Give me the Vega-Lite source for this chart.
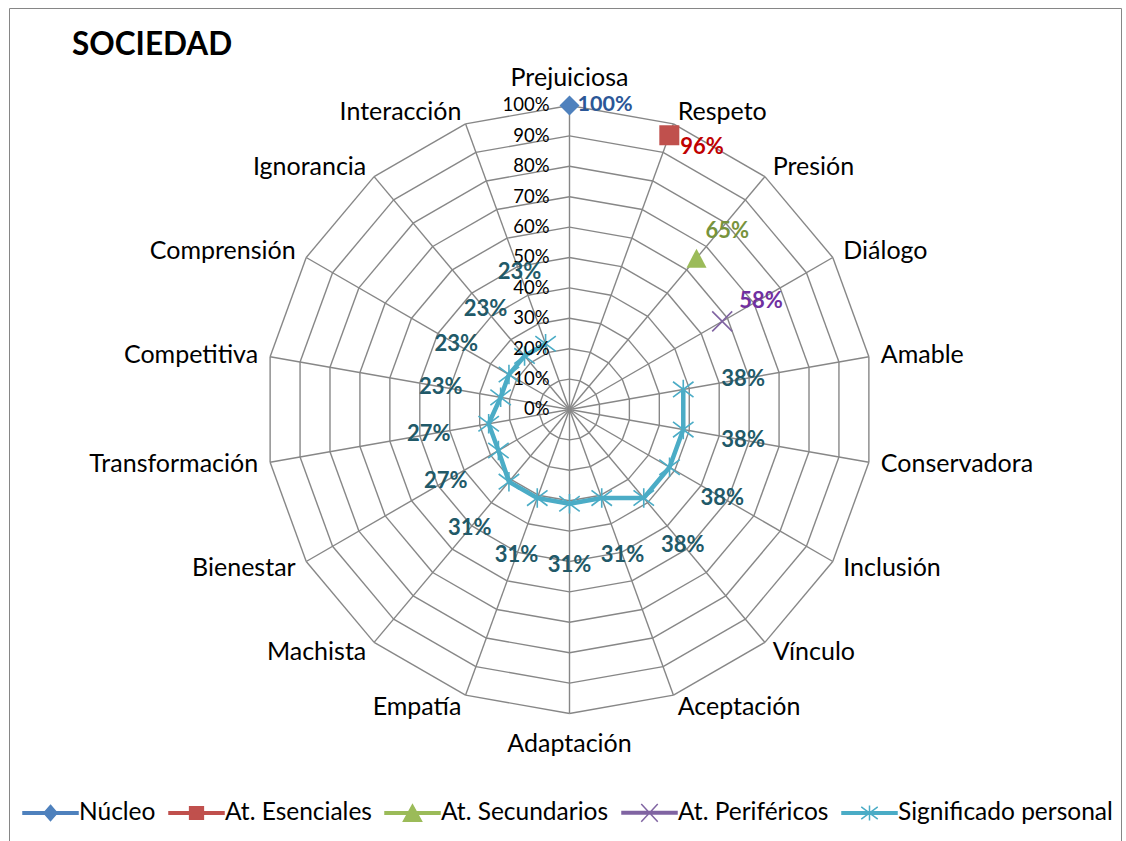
{
  "$schema": "https://vega.github.io/schema/vega-lite/v6.json",
  "width": 1112,
  "height": 833,
  "autosize": "none",
  "padding": {"left": 9, "top": 8, "right": 5, "bottom": 0},
  "background": "white",
  "config": {
    "font": "Lato",
    "view": {"stroke": "#868686", "strokeWidth": 1, "strokeDash": [1945, 1112, 833, 0]}
  },
  "title": {
    "text": "SOCIEDAD", "anchor": "start", "frame": "group", "orient": "top", "offset": 0,
    "dx": 63, "dy": 78.5, "baseline": "alphabetic",
    "font": "Lato", "fontSize": 31.5, "fontWeight": "bold", "color": "#000000"
  },
  "datasets": {
    "cats": [
      {"cat": "Prejuiciosa", "i": 0}, {"cat": "Respeto", "i": 1}, {"cat": "Presión", "i": 2},
      {"cat": "Diálogo", "i": 3}, {"cat": "Amable", "i": 4}, {"cat": "Conservadora", "i": 5},
      {"cat": "Inclusión", "i": 6}, {"cat": "Vínculo", "i": 7}, {"cat": "Aceptación", "i": 8},
      {"cat": "Adaptación", "i": 9}, {"cat": "Empatía", "i": 10}, {"cat": "Machista", "i": 11},
      {"cat": "Bienestar", "i": 12}, {"cat": "Transformación", "i": 13}, {"cat": "Competitiva", "i": 14},
      {"cat": "Comprensión", "i": 15}, {"cat": "Ignorancia", "i": 16}, {"cat": "Interacción", "i": 17}
    ],
    "vals": [
      {"serie": "Núcleo", "cat": "Prejuiciosa", "value": 1.0},
      {"serie": "At. Esenciales", "cat": "Respeto", "value": 0.96},
      {"serie": "At. Secundarios", "cat": "Presión", "value": 0.65},
      {"serie": "At. Periféricos", "cat": "Diálogo", "value": 0.58},
      {"serie": "Significado personal", "cat": "Amable", "value": 0.38},
      {"serie": "Significado personal", "cat": "Conservadora", "value": 0.38},
      {"serie": "Significado personal", "cat": "Inclusión", "value": 0.38},
      {"serie": "Significado personal", "cat": "Vínculo", "value": 0.38},
      {"serie": "Significado personal", "cat": "Aceptación", "value": 0.31},
      {"serie": "Significado personal", "cat": "Adaptación", "value": 0.31},
      {"serie": "Significado personal", "cat": "Empatía", "value": 0.31},
      {"serie": "Significado personal", "cat": "Machista", "value": 0.31},
      {"serie": "Significado personal", "cat": "Bienestar", "value": 0.27},
      {"serie": "Significado personal", "cat": "Transformación", "value": 0.27},
      {"serie": "Significado personal", "cat": "Competitiva", "value": 0.23},
      {"serie": "Significado personal", "cat": "Comprensión", "value": 0.23},
      {"serie": "Significado personal", "cat": "Ignorancia", "value": 0.23},
      {"serie": "Significado personal", "cat": "Interacción", "value": 0.23}
    ],
    "ticks": [
      {"t": 0}, {"t": 0.1}, {"t": 0.2}, {"t": 0.3}, {"t": 0.4}, {"t": 0.5},
      {"t": 0.6}, {"t": 0.7}, {"t": 0.8}, {"t": 0.9}, {"t": 1.0}
    ]
  },
  "encoding": {
    "x": {"field": "x", "type": "quantitative", "scale": {"domain": [-1.84375, 1.81414], "nice": false, "zero": false}, "axis": null},
    "y": {"field": "y", "type": "quantitative", "scale": {"domain": [-1.41941, 1.32072], "nice": false, "zero": false}, "axis": null}
  },
  "layer": [
    {
      "data": {"name": "cats"},
      "transform": [
        {"calculate": "[0.1,0.2,0.3,0.4,0.5,0.6,0.7,0.8,0.9,1.0]", "as": "lv"},
        {"flatten": ["lv"]},
        {"calculate": "datum.lv*sin(datum.i*PI/9)", "as": "x"},
        {"calculate": "datum.lv*cos(datum.i*PI/9)", "as": "y"},
        {"calculate": "datum.lv*sin((datum.i+1)*PI/9)", "as": "x2"},
        {"calculate": "datum.lv*cos((datum.i+1)*PI/9)", "as": "y2"}
      ],
      "mark": {"type": "rule", "color": "#878787", "strokeWidth": 1.4},
      "encoding": {"x2": {"field": "x2"}, "y2": {"field": "y2"}}
    },
    {
      "data": {"name": "cats"},
      "transform": [
        {"calculate": "0", "as": "x"},
        {"calculate": "0", "as": "y"},
        {"calculate": "sin(datum.i*PI/9)", "as": "x2"},
        {"calculate": "cos(datum.i*PI/9)", "as": "y2"}
      ],
      "mark": {"type": "rule", "color": "#878787", "strokeWidth": 1.4},
      "encoding": {"x2": {"field": "x2"}, "y2": {"field": "y2"}}
    },
    {
      "data": {"name": "vals"},
      "transform": [
        {"filter": "datum.serie == 'Significado personal'"},
        {"lookup": "cat", "from": {"data": {"name": "cats"}, "key": "cat", "fields": ["i"]}},
        {"calculate": "datum.value*sin(datum.i*PI/9)", "as": "x"},
        {"calculate": "datum.value*cos(datum.i*PI/9)", "as": "y"}
      ],
      "mark": {"type": "line", "color": "#4BACC6", "strokeWidth": 4.5, "strokeJoin": "round"},
      "encoding": {"order": {"field": "i", "type": "quantitative"}}
    },
    {
      "data": {"name": "vals"},
      "transform": [
        {"filter": "datum.serie == 'Significado personal'"},
        {"lookup": "cat", "from": {"data": {"name": "cats"}, "key": "cat", "fields": ["i"]}},
        {"calculate": "datum.value*sin(datum.i*PI/9)", "as": "x"},
        {"calculate": "datum.value*cos(datum.i*PI/9)", "as": "y"}
      ],
      "mark": {"type": "point", "filled": false, "opacity": 1, "color": "#4BACC6", "strokeWidth": 1.6, "size": 420,
               "shape": "M-1,-0.75L1,0.75M-1,0.75L1,-0.75M0,-0.95L0,0.95"}
    },
    {
      "data": {"name": "vals"},
      "transform": [
        {"filter": "datum.serie == 'Núcleo'"},
        {"lookup": "cat", "from": {"data": {"name": "cats"}, "key": "cat", "fields": ["i"]}},
        {"calculate": "datum.value*sin(datum.i*PI/9)", "as": "x"},
        {"calculate": "datum.value*cos(datum.i*PI/9)", "as": "y"}
      ],
      "mark": {"type": "point", "filled": true, "opacity": 1, "color": "#4F81BD", "size": 400, "shape": "diamond"}
    },
    {
      "data": {"name": "vals"},
      "transform": [
        {"filter": "datum.serie == 'At. Esenciales'"},
        {"lookup": "cat", "from": {"data": {"name": "cats"}, "key": "cat", "fields": ["i"]}},
        {"calculate": "datum.value*sin(datum.i*PI/9)", "as": "x"},
        {"calculate": "datum.value*cos(datum.i*PI/9)", "as": "y"}
      ],
      "mark": {"type": "point", "filled": true, "opacity": 1, "color": "#C0504D", "size": 400, "shape": "square"}
    },
    {
      "data": {"name": "vals"},
      "transform": [
        {"filter": "datum.serie == 'At. Secundarios'"},
        {"lookup": "cat", "from": {"data": {"name": "cats"}, "key": "cat", "fields": ["i"]}},
        {"calculate": "datum.value*sin(datum.i*PI/9)", "as": "x"},
        {"calculate": "datum.value*cos(datum.i*PI/9)", "as": "y"}
      ],
      "mark": {"type": "point", "filled": true, "opacity": 1, "color": "#9BBB59", "size": 400, "shape": "M0,-0.95L1,0.95L-1,0.95Z"}
    },
    {
      "data": {"name": "vals"},
      "transform": [
        {"filter": "datum.serie == 'At. Periféricos'"},
        {"lookup": "cat", "from": {"data": {"name": "cats"}, "key": "cat", "fields": ["i"]}},
        {"calculate": "datum.value*sin(datum.i*PI/9)", "as": "x"},
        {"calculate": "datum.value*cos(datum.i*PI/9)", "as": "y"}
      ],
      "mark": {"type": "point", "filled": false, "opacity": 1, "color": "#8064A2", "strokeWidth": 1.6, "size": 400, "shape": "M-1,-1L1,1M-1,1L1,-1"}
    },
    {
      "data": {"name": "ticks"},
      "transform": [
        {"calculate": "0", "as": "x"},
        {"calculate": "datum.t", "as": "y"}
      ],
      "mark": {"type": "text", "align": "right", "baseline": "middle", "dx": -20, "font": "Lato", "fontSize": 18.5, "color": "#000000"},
      "encoding": {"text": {"field": "t", "type": "quantitative", "format": ".0%"}}
    },
    {
      "data": {"name": "cats"},
      "transform": [
        {"filter": "datum.i >= 1 && datum.i <= 8"},
        {"calculate": "1.04*sin(datum.i*PI/9)", "as": "x"},
        {"calculate": "1.04*cos(datum.i*PI/9)", "as": "y"}
      ],
      "mark": {"type": "text", "align": "left", "baseline": "middle", "font": "Lato", "fontSize": 25, "color": "#000000"},
      "encoding": {"text": {"field": "cat"}}
    },
    {
      "data": {"name": "cats"},
      "transform": [
        {"filter": "datum.i >= 10"},
        {"calculate": "1.04*sin(datum.i*PI/9)", "as": "x"},
        {"calculate": "1.04*cos(datum.i*PI/9)", "as": "y"}
      ],
      "mark": {"type": "text", "align": "right", "baseline": "middle", "font": "Lato", "fontSize": 25, "color": "#000000"},
      "encoding": {"text": {"field": "cat"}}
    },
    {
      "data": {"name": "cats"},
      "transform": [
        {"filter": "datum.i == 0"},
        {"calculate": "1.04*sin(datum.i*PI/9)", "as": "x"},
        {"calculate": "1.04*cos(datum.i*PI/9)", "as": "y"}
      ],
      "mark": {"type": "text", "align": "center", "baseline": "middle", "dy": -15, "font": "Lato", "fontSize": 25, "color": "#000000"},
      "encoding": {"text": {"field": "cat"}}
    },
    {
      "data": {"name": "cats"},
      "transform": [
        {"filter": "datum.i == 9"},
        {"calculate": "1.04*sin(datum.i*PI/9)", "as": "x"},
        {"calculate": "1.04*cos(datum.i*PI/9)", "as": "y"}
      ],
      "mark": {"type": "text", "align": "center", "baseline": "middle", "dy": 18, "font": "Lato", "fontSize": 25, "color": "#000000"},
      "encoding": {"text": {"field": "cat"}}
    },
    {
      "data": {"name": "vals"},
      "transform": [
        {"filter": "datum.serie == 'Significado personal'"},
        {"lookup": "cat", "from": {"data": {"name": "cats"}, "key": "cat", "fields": ["i"]}},
        {"calculate": "datum.value + (datum.cat == 'Interacción' ? 0.25 : 0.2)", "as": "lr"},
        {"calculate": "datum.lr*sin(datum.i*PI/9)", "as": "x"},
        {"calculate": "datum.lr*cos(datum.i*PI/9)", "as": "y"}
      ],
      "mark": {"type": "text", "align": "center", "baseline": "middle", "font": "Lato", "fontSize": 22, "fontWeight": "bold", "color": "#215968"},
      "encoding": {"text": {"field": "value", "type": "quantitative", "format": ".0%"}}
    },
    {
      "data": {"name": "vals"},
      "transform": [
        {"filter": "datum.serie == 'Núcleo'"},
        {"lookup": "cat", "from": {"data": {"name": "cats"}, "key": "cat", "fields": ["i"]}},
        {"calculate": "datum.value*sin(datum.i*PI/9)", "as": "x"},
        {"calculate": "datum.value*cos(datum.i*PI/9)", "as": "y"}
      ],
      "mark": {"type": "text", "align": "left", "baseline": "middle", "dx": 8, "font": "Lato", "fontSize": 21.5, "fontWeight": "bold", "color": "#2B5797"},
      "encoding": {"text": {"field": "value", "type": "quantitative", "format": ".0%"}}
    },
    {
      "data": {"name": "vals"},
      "transform": [
        {"filter": "datum.serie == 'At. Esenciales'"},
        {"lookup": "cat", "from": {"data": {"name": "cats"}, "key": "cat", "fields": ["i"]}},
        {"calculate": "datum.value*sin(datum.i*PI/9)", "as": "x"},
        {"calculate": "datum.value*cos(datum.i*PI/9)", "as": "y"}
      ],
      "mark": {"type": "text", "align": "left", "baseline": "middle", "dx": 11, "dy": 12, "font": "Lato", "fontSize": 22, "fontWeight": "bold", "color": "#C00000"},
      "encoding": {"text": {"field": "value", "type": "quantitative", "format": ".0%"}}
    },
    {
      "data": {"name": "vals"},
      "transform": [
        {"filter": "datum.serie == 'At. Secundarios'"},
        {"lookup": "cat", "from": {"data": {"name": "cats"}, "key": "cat", "fields": ["i"]}},
        {"calculate": "datum.value*sin(datum.i*PI/9)", "as": "x"},
        {"calculate": "datum.value*cos(datum.i*PI/9)", "as": "y"}
      ],
      "mark": {"type": "text", "align": "left", "baseline": "middle", "dx": 9, "dy": -27, "font": "Lato", "fontSize": 22, "fontWeight": "bold", "color": "#77933C"},
      "encoding": {"text": {"field": "value", "type": "quantitative", "format": ".0%"}}
    },
    {
      "data": {"name": "vals"},
      "transform": [
        {"filter": "datum.serie == 'At. Periféricos'"},
        {"lookup": "cat", "from": {"data": {"name": "cats"}, "key": "cat", "fields": ["i"]}},
        {"calculate": "datum.value*sin(datum.i*PI/9)", "as": "x"},
        {"calculate": "datum.value*cos(datum.i*PI/9)", "as": "y"}
      ],
      "mark": {"type": "text", "align": "left", "baseline": "middle", "dx": 17, "dy": -20, "font": "Lato", "fontSize": 22, "fontWeight": "bold", "color": "#7030A0"},
      "encoding": {"text": {"field": "value", "type": "quantitative", "format": ".0%"}}
    },
    {
      "data": {"name": "vals"},
      "transform": [{"filter": "false"}],
      "mark": {"type": "point", "filled": true, "opacity": 1},
      "encoding": {
        "color": {
          "field": "serie", "type": "nominal",
          "scale": {"domain": ["Núcleo", "At. Esenciales", "At. Secundarios", "At. Periféricos", "Significado personal"],
                    "range": ["#4F81BD", "#C0504D", "#9BBB59", "#8064A2", "#4BACC6"]},
          "legend": {"orient": "none", "legendX": 13, "legendY": 776, "direction": "horizontal", "title": null,
                     "symbolSize": 3025, "symbolStrokeWidth": 1.5, "symbolOpacity": 1,
                     "labelFont": "Lato", "labelFontSize": 24.5, "labelColor": "#000000", "labelOffset": 0,
                     "columnPadding": 10, "labelLimit": 400, "padding": 0}
        },
        "stroke": {
          "field": "serie", "type": "nominal",
          "scale": {"domain": ["Núcleo", "At. Esenciales", "At. Secundarios", "At. Periféricos", "Significado personal"],
                    "range": ["#4F81BD", "#C0504D", "#9BBB59", "#8064A2", "#4BACC6"]},
          "legend": {"orient": "none", "legendX": 13, "legendY": 776, "direction": "horizontal", "title": null,
                     "symbolSize": 3025, "symbolStrokeWidth": 1.5, "symbolOpacity": 1,
                     "labelFont": "Lato", "labelFontSize": 24.5, "labelColor": "#000000", "labelOffset": 0,
                     "columnPadding": 10, "labelLimit": 400, "padding": 0}
        },
        "shape": {
          "field": "serie", "type": "nominal",
          "scale": {"domain": ["Núcleo", "At. Esenciales", "At. Secundarios", "At. Periféricos", "Significado personal"],
                    "range": [
                      "M-1,-0.045H1V0.045H-1Z M0,-0.28L0.24,0L0,0.28L-0.24,0Z",
                      "M-1,-0.045H1V0.045H-1Z M-0.25,-0.23H0.25V0.23H-0.25Z",
                      "M-1,-0.045H1V0.045H-1Z M0,-0.3L0.33,0.3H-0.33Z",
                      "M-1,-0.045H1V0.045H-1Z M-0.3,-0.32L0.3,0.32M-0.3,0.32L0.3,-0.32",
                      "M-1,-0.045H1V0.045H-1Z M-0.3,-0.22L0.3,0.22M-0.3,0.22L0.3,-0.22M0,-0.27L0,0.27"
                    ]},
          "legend": {"orient": "none", "legendX": 13, "legendY": 776, "direction": "horizontal", "title": null,
                     "symbolSize": 3025, "symbolStrokeWidth": 1.5, "symbolOpacity": 1,
                     "labelFont": "Lato", "labelFontSize": 24.5, "labelColor": "#000000", "labelOffset": 0,
                     "columnPadding": 10, "labelLimit": 400, "padding": 0}
        }
      }
    }
  ]
}
